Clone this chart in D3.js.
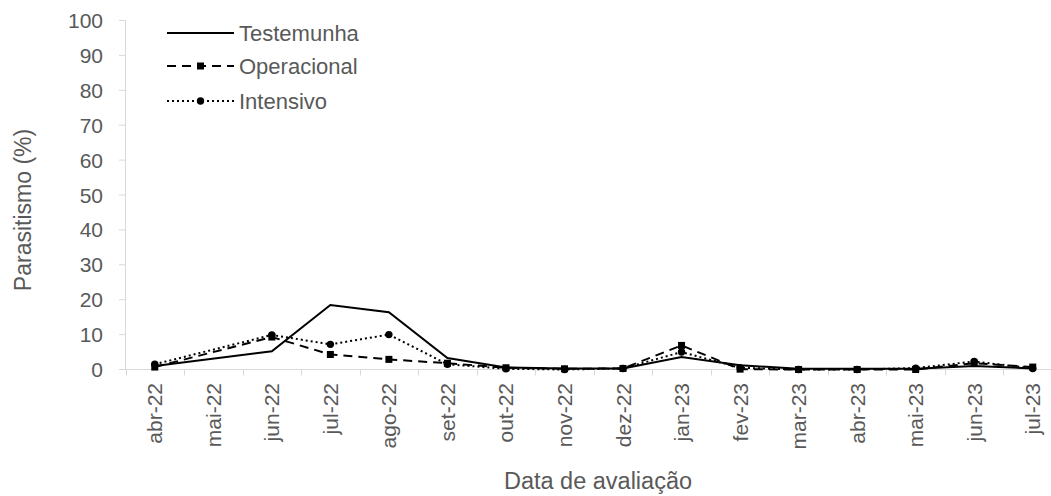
<!DOCTYPE html>
<html><head><meta charset="utf-8">
<script src="https://cdn.jsdelivr.net/npm/d3@7"></script>
<style>body{margin:0;background:#fff}svg{display:block}text{font-family:"Liberation Sans",Arial,sans-serif;fill:#595959}</style>
</head><body>
<script>
const categories = ["abr-22","mai-22","jun-22","jul-22","ago-22","set-22","out-22","nov-22","dez-22","jan-23","fev-23","mar-23","abr-23","mai-23","jun-23","jul-23"];
const testemunha = [1.0, null, 5.2, 18.5, 16.4, 3.3, 0.6, 0.3, 0.3, 3.6, 1.2, 0.2, 0.2, 0.2, 1.0, 0.3];
const operacional = [0.7, null, 9.3, 4.3, 2.9, 1.8, 0.5, 0.2, 0.3, 6.9, 0.1, 0.0, 0.0, 0.0, 1.8, 0.7];
const intensivo = [1.5, null, 9.9, 7.2, 10.0, 1.5, 0.2, 0.0, 0.3, 5.0, 0.5, 0.0, 0.0, 0.4, 2.3, 0.3];
const yTicks = [0,10,20,30,40,50,60,70,80,90,100];

const W = 1051, H = 496;
const svg = d3.select("body").append("svg").attr("width", W).attr("height", H);
const x = d3.scaleBand().domain(categories).range([125.5, 1062]);
const y = d3.scaleLinear().domain([0, 100]).range([369.5, 20.5]);
const grey = "#d9d9d9";
const fs = 21;

// Y axis
svg.append("line").attr("x1",125.5).attr("x2",125.5).attr("y1",y(100)).attr("y2",y(0)).attr("stroke",grey);
yTicks.forEach(t => {
  svg.append("line").attr("x1",119).attr("x2",125.5).attr("y1",y(t)).attr("y2",y(t)).attr("stroke",grey);
  svg.append("text").attr("x",103).attr("y",y(t)).attr("dy","0.36em").attr("text-anchor","end").attr("font-size",fs).text(t);
});
// X axis
svg.append("line").attr("x1",125.5).attr("x2",1062).attr("y1",y(0)).attr("y2",y(0)).attr("stroke",grey);
categories.forEach((c,i) => {
  const bx = Math.round(x(c)) + 0.5;
  svg.append("line").attr("x1",bx).attr("x2",bx).attr("y1",y(0)).attr("y2",y(0)+6).attr("stroke",grey);
  const cx = x(c) + x.bandwidth()/2;
  svg.append("text").attr("transform",`translate(${cx+7.5},383) rotate(-90)`).attr("text-anchor","end").attr("font-size",fs).text(c);
});
svg.append("line").attr("x1",1061.5).attr("x2",1061.5).attr("y1",y(0)).attr("y2",y(0)+6).attr("stroke",grey);

// Titles
svg.append("text").attr("transform","translate(31,210) rotate(-90)").attr("text-anchor","middle").attr("font-size",23).text("Parasitismo (%)");
svg.append("text").attr("x",598).attr("y",489).attr("text-anchor","middle").attr("font-size",23.5).text("Data de avaliação");

const cx = c => x(c) + x.bandwidth()/2;
const series = [
  {name:"Testemunha", values:testemunha, dash:null, marker:null},
  {name:"Operacional", values:operacional, dash:"9,6", marker:"square"},
  {name:"Intensivo", values:intensivo, dash:"2,3", marker:"circle"}
];
const line = d3.line().x(d => cx(d.c)).y(d => y(d.v));
series.forEach(s => {
  const pts = categories.map((c,i) => ({c, v:s.values[i]})).filter(d => d.v !== null);
  svg.append("path").attr("d", line(pts)).attr("fill","none").attr("stroke","#000").attr("stroke-width",2)
    .attr("stroke-dasharray", s.dash);
  if (s.marker === "square") {
    svg.selectAll(null).data(pts).enter().append("rect")
      .attr("x", d => cx(d.c)-3.5).attr("y", d => y(d.v)-3.5).attr("width",7).attr("height",7).attr("fill","#000");
  } else if (s.marker === "circle") {
    svg.selectAll(null).data(pts).enter().append("circle")
      .attr("cx", d => cx(d.c)).attr("cy", d => y(d.v)).attr("r",3.7).attr("fill","#000");
  }
});

// Legend
const ly = [33, 66, 101];
series.forEach((s,i) => {
  svg.append("line").attr("x1",167).attr("x2",234).attr("y1",ly[i]).attr("y2",ly[i])
    .attr("stroke","#000").attr("stroke-width",2).attr("stroke-dasharray", s.dash);
  if (s.marker === "square") svg.append("rect").attr("x",197).attr("y",ly[i]-3.5).attr("width",7).attr("height",7);
  if (s.marker === "circle") svg.append("circle").attr("cx",200.5).attr("cy",ly[i]).attr("r",3.7);
  svg.append("text").attr("x",239).attr("y",ly[i]).attr("dy","0.36em").attr("font-size",22).text(s.name);
});
</script>
</body></html>
